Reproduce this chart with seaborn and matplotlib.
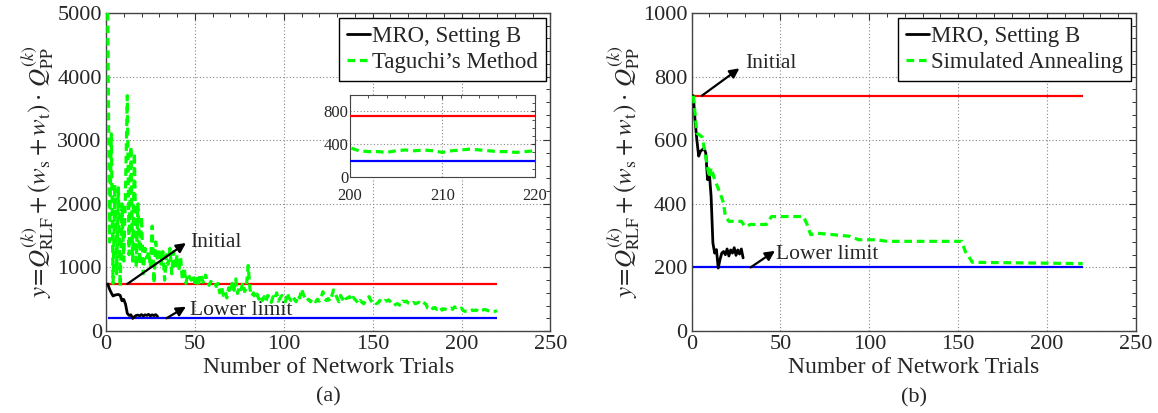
import matplotlib
matplotlib.use("Agg")
import matplotlib.pyplot as plt
from matplotlib.ticker import MultipleLocator
from matplotlib.lines import Line2D
import seaborn as sns

# ---------------- data ----------------
initial_cost = 740
lower_limit = 200
trial_span = [1, 220]

# MRO, Setting B (both panels)
mro_trials = list(range(1, 30))
mro_cost = [740, 660, 600, 550, 565, 570, 575, 560, 476, 497,
            423, 277, 245, 256, 198, 225, 245, 250, 240, 258,
            236, 255, 245, 262, 238, 255, 242, 258, 230]

# Taguchi's method, trials 1..220
taguchi_trials = list(range(1, 221))
taguchi_cost = [
    5000, 1400, 3100, 750, 2300, 900, 2250, 700, 2000, 1100,
    2200, 3700, 1200, 2900, 1100, 2800, 1000, 2000, 1050, 1800,
    900, 1300, 1150, 1250, 1000, 1650, 750, 1400, 1100, 1300,
    1050, 1250, 800, 1200, 1050, 1300, 900, 1250, 1000, 1200,
    950, 1150, 800, 1000, 750, 900, 850, 800, 880, 760,
    850, 700, 900, 820, 750, 880, 800, 720, 780, 740,
    760, 700, 750, 600, 700, 560, 620, 520, 680, 600,
    750, 640, 820, 590, 700, 650, 760, 620, 700, 1030,
    660, 550, 600, 520, 580, 500, 560, 480, 540, 470,
    560, 520, 450, 540, 500, 600, 470, 520, 560, 500,
    460, 600, 520, 480, 540, 500, 460, 560, 520, 660,
    580, 510, 470, 500, 460, 510, 480, 460, 500, 470,
    520, 618, 500, 480, 510, 470, 550, 645, 590, 520,
    460, 560, 500, 560, 510, 520, 540, 480, 530, 500,
    470, 430, 480, 450, 430, 470, 520, 540, 480, 450,
    470, 430, 440, 480, 470, 450, 480, 470, 490, 460,
    430, 400, 420, 430, 410, 400, 470, 460, 470, 440,
    430, 420, 450, 430, 440, 450, 430, 460, 440, 420,
    360, 350, 380, 350, 370, 340, 360, 380, 330, 350,
    340, 330, 350, 360, 340, 380, 370, 380, 350, 360,
    320, 310, 310, 300, 320, 330, 320, 330, 320, 300,
    320, 330, 340, 330, 320, 310, 310, 300, 310, 320,
]

# Simulated annealing, trials where the curve changes
sa_trials = [1, 3, 6, 8, 10, 11, 13, 16, 18, 19, 21, 28, 30, 31, 33, 42,
             45, 63, 65, 67, 70, 89, 94, 104, 110, 152, 154, 158, 220]
sa_cost = [740, 622, 610, 548, 482, 513, 476, 434, 403, 360, 345, 345, 329,
           329, 335, 335, 360, 360, 335, 303, 308, 298, 287, 287, 282, 282,
           250, 216, 212]

xlabel = "Number of Network Trials"
ylabel = (r"$y\!=\!Q^{(k)}_{\mathrm{RLF}}+(w_{\mathrm{s}}+w_{\mathrm{t}})"
          r"\cdot\, Q^{(k)}_{\mathrm{PP}}$")

# ---------------- style ----------------
sns.set_style("white")
plt.rcParams["font.family"] = ["Liberation Serif", "DejaVu Serif"]
plt.rcParams["mathtext.fontset"] = "stix"
plt.rcParams["axes.unicode_minus"] = False

GREEN = "#00ff00"
DASH = (0, (2.4, 1.5))
TICK_FS = 16

fig = plt.figure(figsize=(11.58, 4.13), dpi=100)
ax_a = fig.add_axes([0.0915, 0.1985, 0.3838, 0.770])
ax_b = fig.add_axes([0.5972, 0.1985, 0.3838, 0.770])


def style_axes(ax, ymax, ystep, yminor):
    ax.set_xlim(0, 250)
    ax.set_ylim(0, ymax)
    ax.xaxis.set_major_locator(MultipleLocator(50))
    ax.xaxis.set_minor_locator(MultipleLocator(10))
    ax.yaxis.set_major_locator(MultipleLocator(ystep))
    ax.yaxis.set_minor_locator(MultipleLocator(yminor))
    ax.tick_params(which="both", direction="in", top=True, right=True,
                   color="#333333", labelsize=TICK_FS, pad=3)
    ax.tick_params(which="major", length=5, width=0.8)
    ax.tick_params(which="minor", length=3, width=0.7)
    ax.grid(True, which="major", linestyle=(0, (1, 2)), color="#888888",
            linewidth=0.8)
    for s in ax.spines.values():
        s.set_color("#444444")
        s.set_linewidth(1.0)


def reference_lines(ax):
    ax.hlines(initial_cost, trial_span[0], trial_span[1], color="#ff0000",
              linewidth=1.6, zorder=3)
    ax.hlines(lower_limit, trial_span[0], trial_span[1], color="#0000ff",
              linewidth=1.6, zorder=3)


def add_legend(ax, labels):
    handles = [Line2D([], [], color="black", linewidth=2.0),
               Line2D([], [], color=GREEN, linewidth=2.3, linestyle=DASH)]
    leg = ax.legend(handles, labels, loc="upper right", fontsize=16.5,
                    frameon=True, fancybox=False, edgecolor="black",
                    framealpha=1, handlelength=1.0, handletextpad=0.1,
                    labelspacing=0.25, borderpad=0.35, borderaxespad=0.2)
    leg.get_frame().set_linewidth(1.0)


arrow = dict(arrowstyle="-|>", color="black", lw=1.6, mutation_scale=14,
             shrinkA=0, shrinkB=0)

# ---------------- panel (a) ----------------
reference_lines(ax_a)
sns.lineplot(x=mro_trials, y=mro_cost, ax=ax_a, color="black", linewidth=2.0,
             zorder=4)
sns.lineplot(x=taguchi_trials, y=taguchi_cost, ax=ax_a, color=GREEN,
             linewidth=2.3, linestyle=DASH, zorder=5)
style_axes(ax_a, 5000, 1000, 200)
ax_a.set_xlabel(xlabel, fontsize=17, labelpad=2)
ax_a.set_ylabel(ylabel, fontsize=18, labelpad=1)

ax_a.annotate("", xy=(45, 1384), xytext=(12, initial_cost), arrowprops=arrow,
              zorder=6)
ax_a.text(47.5, 1384, "Initial", fontsize=15.5, va="center", ha="left")
ax_a.annotate("", xy=(45, 382), xytext=(34, lower_limit), arrowprops=arrow,
              zorder=6)
ax_a.text(47.5, 330, "Lower limit", fontsize=15.5, va="center", ha="left")

add_legend(ax_a, ["MRO, Setting B", "Taguchi\u2019s Method"])
fig.text(0.2836, 1 - 397 / 413, "(a)", fontsize=16, ha="center", va="center")

# inset of panel (a): the last twenty trials
ax_in = fig.add_axes([0.3019, 0.5714, 0.1601, 0.1985])
ax_in.hlines(initial_cost, trial_span[0], trial_span[1], color="#ff0000",
             linewidth=1.6, zorder=3)
ax_in.hlines(lower_limit, trial_span[0], trial_span[1], color="#0000ff",
             linewidth=1.6, zorder=3)
sns.lineplot(x=taguchi_trials, y=taguchi_cost, ax=ax_in, color=GREEN,
             linewidth=2.3, linestyle=DASH, zorder=5)
ax_in.set_xlim(200, 220)
ax_in.set_ylim(0, 1000)
ax_in.xaxis.set_major_locator(MultipleLocator(10))
ax_in.xaxis.set_minor_locator(MultipleLocator(2))
ax_in.yaxis.set_major_locator(MultipleLocator(400))
ax_in.yaxis.set_minor_locator(MultipleLocator(100))
ax_in.tick_params(which="both", direction="in", top=True, right=True,
                  color="#333333", labelsize=12)
ax_in.tick_params(axis="x", pad=8)
ax_in.tick_params(axis="y", pad=1)
ax_in.tick_params(which="major", length=3)
ax_in.tick_params(which="minor", length=2)
ax_in.grid(True, which="major", linestyle=(0, (1, 2)), color="#888888",
           linewidth=0.8)
ax_in.set_xlabel("")
ax_in.set_ylabel("")
for s in ax_in.spines.values():
    s.set_color("#444444")

# ---------------- panel (b) ----------------
reference_lines(ax_b)
sns.lineplot(x=mro_trials, y=mro_cost, ax=ax_b, color="black", linewidth=2.0,
             zorder=4)
sns.lineplot(x=sa_trials, y=sa_cost, ax=ax_b, color=GREEN, linewidth=2.3,
             linestyle=DASH, zorder=5)
style_axes(ax_b, 1000, 200, 40)
ax_b.set_xlabel(xlabel, fontsize=17, labelpad=2)
ax_b.set_ylabel(ylabel, fontsize=18, labelpad=1)

ax_b.annotate("", xy=(26.9, 826), xytext=(5.8, initial_cost), arrowprops=arrow,
              zorder=6)
ax_b.text(30, 842, "Initial", fontsize=15.5, va="center", ha="left")
ax_b.annotate("", xy=(46.9, 252), xytext=(33.2, lower_limit),
              arrowprops=arrow, zorder=6)
ax_b.text(47.3, 242, "Lower limit", fontsize=15.5, va="center", ha="left")

add_legend(ax_b, ["MRO, Setting B", "Simulated Annealing"])
fig.text(0.7891, 1 - 398 / 413, "(b)", fontsize=16, ha="center", va="center")

fig.savefig("out.png", dpi=100)
